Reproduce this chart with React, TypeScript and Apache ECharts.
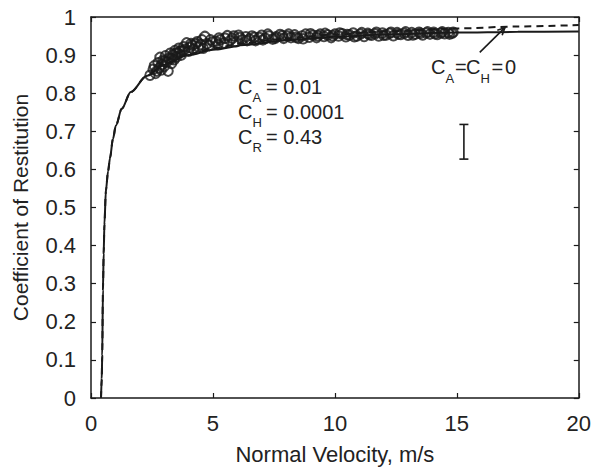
import React, { useEffect, useRef } from "react";
import * as echarts from "echarts";

const curveX = [0.41, 0.44, 0.46, 0.49, 0.52, 0.55, 0.61, 0.7, 0.78, 0.9, 1.02, 1.26, 1.63, 2.28, 3, 4, 5, 6.4, 8, 10, 12, 15, 17.5, 20];
const solidY = [0, 0.05, 0.111, 0.285, 0.38, 0.456, 0.544, 0.595, 0.63, 0.68, 0.715, 0.759, 0.803, 0.845, 0.875, 0.9, 0.914, 0.927, 0.939, 0.948, 0.954, 0.959, 0.961, 0.962];
const dashedY = [0, 0.05, 0.111, 0.285, 0.38, 0.456, 0.544, 0.595, 0.63, 0.68, 0.715, 0.759, 0.803, 0.845, 0.877, 0.903, 0.918, 0.932, 0.944, 0.954, 0.962, 0.97, 0.975, 0.979];

const measuredA: [number, number][] = [
  [2.42, 0.847], [2.55, 0.863], [2.6, 0.872], [2.7, 0.858], [2.75, 0.88], [2.8, 0.866], [2.83, 0.894], [2.9, 0.875],
  [2.95, 0.886], [3.0, 0.87], [3.05, 0.898], [3.1, 0.882], [3.16, 0.858], [3.2, 0.892], [3.25, 0.905], [3.3, 0.878],
  [3.35, 0.9], [3.4, 0.888], [3.45, 0.912], [3.5, 0.895],
  [3.55, 0.906], [3.6, 0.918], [3.7, 0.9], [3.75, 0.912], [3.8, 0.922], [3.92, 0.932], [4.0, 0.91], [4.05, 0.92],
  [4.15, 0.926], [4.2, 0.915], [4.3, 0.93], [4.4, 0.922], [4.5, 0.928], [4.67, 0.949], [4.6, 0.918], [4.75, 0.93],
  [4.85, 0.925], [5.0, 0.935], [5.12, 0.936], [5.2, 0.928],
  [5.3, 0.94], [5.45, 0.932], [5.59, 0.951], [5.7, 0.938], [5.8, 0.944], [5.95, 0.935], [6.1, 0.946], [6.2, 0.94],
  [6.35, 0.948], [6.5, 0.942], [6.6, 0.95], [6.75, 0.938], [6.9, 0.946], [7.0, 0.952],
  [7.15, 0.944], [7.3, 0.95], [7.45, 0.942], [7.6, 0.948], [7.75, 0.954], [7.9, 0.944], [8.05, 0.95], [8.2, 0.946],
  [8.35, 0.953], [8.5, 0.944], [8.65, 0.95], [8.8, 0.955], [8.95, 0.947], [9.1, 0.952], [9.25, 0.946], [9.4, 0.955],
  [9.55, 0.949], [9.7, 0.953], [9.85, 0.946], [10.0, 0.955],
  [10.15, 0.95], [10.3, 0.956], [10.45, 0.948], [10.6, 0.953], [10.75, 0.958], [10.9, 0.95], [11.05, 0.955], [11.2, 0.949],
  [11.35, 0.957], [11.5, 0.952], [11.65, 0.956], [11.8, 0.95], [11.95, 0.958], [12.1, 0.953], [12.25, 0.957], [12.4, 0.951],
  [12.55, 0.959], [12.7, 0.954], [12.85, 0.957], [13.0, 0.952], [13.15, 0.959], [13.3, 0.955], [13.45, 0.96], [13.6, 0.953],
  [13.75, 0.958], [13.9, 0.955], [14.05, 0.96], [14.2, 0.954], [14.35, 0.958], [14.5, 0.956], [14.65, 0.959], [14.8, 0.957],
];

const measuredB: [number, number][] = [
  [2.65, 0.852], [2.88, 0.861], [3.02, 0.884], [3.28, 0.89], [3.48, 0.905], [3.65, 0.91], [3.85, 0.915], [4.1, 0.93],
  [4.35, 0.935], [4.55, 0.94], [4.9, 0.94], [5.25, 0.945], [5.5, 0.944], [5.85, 0.95], [6.05, 0.952], [6.4, 0.938],
  [6.7, 0.947], [7.05, 0.94], [7.25, 0.955], [7.55, 0.944], [7.85, 0.951], [8.1, 0.955], [8.4, 0.947], [8.7, 0.943],
  [9.0, 0.956], [9.3, 0.951], [9.6, 0.957], [9.9, 0.951], [10.2, 0.958], [10.5, 0.954], [10.8, 0.948], [11.1, 0.959],
  [11.4, 0.954], [11.7, 0.96], [12.0, 0.952], [12.3, 0.96], [12.6, 0.955], [12.9, 0.961], [13.2, 0.953], [13.5, 0.957],
  [13.8, 0.961], [14.1, 0.956], [14.4, 0.961], [14.7, 0.955], [14.85, 0.96],
];

// error bar: [x, low, high]
const errorBar: [number, number, number][] = [[15.29, 0.627, 0.718]];
// arrow: [x0, y0, x1, y1]
const arrow: [number, number, number, number][] = [[15.94, 0.907, 16.97, 0.972]];

const xTicks = { min: 0, max: 20, interval: 5 };
const yTicks = { min: 0, max: 1, interval: 0.1 };

const INK = "#1a1a1a";
const FONT = "'Liberation Sans', Arial, Helvetica, sans-serif";

export default function App() {
  const ref = useRef<HTMLDivElement>(null);
  useEffect(() => {
    if (!ref.current) return;
    const chart = echarts.init(ref.current, undefined, { renderer: "svg" });
    const axisLine = { show: true, onZero: false, lineStyle: { color: INK, width: 1.5 } };
    const axisTick = { show: true, inside: true, length: 5, lineStyle: { color: INK, width: 1.2 } };
    const label = { color: "#222", fontSize: 22, fontFamily: FONT };
    const txt = (text: string, x: number, y: number, size = 20) => ({
      type: "text",
      x,
      y,
      style: { text, fontSize: size, fontFamily: FONT, fill: "#222", align: "left", verticalAlign: "middle" },
    });
    const circleStyle = { color: "rgba(255,255,255,0)", borderColor: INK, borderWidth: 2 };
    chart.setOption({
      animation: false,
      backgroundColor: "#fff",
      grid: { left: 91, right: 15, top: 17, bottom: 67 },
      xAxis: [
        {
          type: "value", ...xTicks, position: "bottom",
          axisLine, axisTick, splitLine: { show: false },
          axisLabel: { ...label, margin: 14 },
          name: "Normal Velocity, m/s", nameLocation: "middle", nameGap: 45,
          nameTextStyle: { color: "#222", fontSize: 22, fontFamily: FONT },
        },
        {
          type: "value", ...xTicks, position: "top",
          axisLine, axisTick, splitLine: { show: false }, axisLabel: { show: false },
        },
      ],
      yAxis: [
        {
          type: "value", ...yTicks, position: "left",
          axisLine, axisTick, splitLine: { show: false },
          axisLabel: { ...label, margin: 15 },
          name: "Coefficient of Restitution", nameLocation: "middle", nameGap: 60,
          nameTextStyle: { color: "#222", fontSize: 21, fontFamily: FONT },
        },
        {
          type: "value", ...yTicks, position: "right",
          axisLine, axisTick, splitLine: { show: false }, axisLabel: { show: false },
        },
      ],
      series: [
        {
          type: "line", data: curveX.map((x, i) => [x, dashedY[i]]), showSymbol: false,
          smooth: 0.3, smoothMonotone: "x",
          lineStyle: { color: INK, width: 2, type: [7, 5] }, z: 2,
        },
        {
          type: "line", data: curveX.map((x, i) => [x, solidY[i]]), showSymbol: false,
          smooth: 0.3, smoothMonotone: "x",
          lineStyle: { color: INK, width: 2 }, z: 3,
        },
        {
          type: "scatter", data: measuredA, symbol: "circle", symbolSize: 9.5,
          itemStyle: circleStyle, z: 4,
        },
        {
          type: "scatter", data: measuredB, symbol: "circle", symbolSize: 9.5,
          itemStyle: circleStyle, z: 4,
        },
        {
          type: "custom", data: errorBar, z: 5,
          renderItem: (params: any, api: any) => {
            const top = api.coord([api.value(0), api.value(2)]);
            const bot = api.coord([api.value(0), api.value(1)]);
            const w = 4.5;
            const s = { stroke: INK, lineWidth: 1.6 };
            return {
              type: "group",
              children: [
                { type: "line", shape: { x1: top[0], y1: top[1], x2: bot[0], y2: bot[1] }, style: s },
                { type: "line", shape: { x1: top[0] - w, y1: top[1], x2: top[0] + w, y2: top[1] }, style: s },
                { type: "line", shape: { x1: bot[0] - w, y1: bot[1], x2: bot[0] + w, y2: bot[1] }, style: s },
              ],
            };
          },
        },
        {
          type: "custom", data: arrow, z: 5,
          renderItem: (params: any, api: any) => {
            const a = api.coord([api.value(0), api.value(1)]);
            const b = api.coord([api.value(2), api.value(3)]);
            const ang = Math.atan2(b[1] - a[1], b[0] - a[0]);
            const L = 8, spread = 0.45;
            const p1 = [b[0] - L * Math.cos(ang - spread), b[1] - L * Math.sin(ang - spread)];
            const p2 = [b[0] - L * Math.cos(ang + spread), b[1] - L * Math.sin(ang + spread)];
            const s = { stroke: INK, lineWidth: 1.6, fill: "none" };
            return {
              type: "group",
              children: [
                { type: "line", shape: { x1: a[0], y1: a[1], x2: b[0], y2: b[1] }, style: s },
                { type: "polyline", shape: { points: [p1, b, p2] }, style: s },
              ],
            };
          },
        },
      ],
      graphic: [
        txt("C", 238, 87), txt("A", 252.5, 97, 13), txt("= 0.01", 266, 87),
        txt("C", 238, 112), txt("H", 252.5, 122, 13), txt("= 0.0001", 266, 112),
        txt("C", 238, 137), txt("R", 252.5, 147, 13), txt("= 0.43", 266, 137),
        txt("C", 431, 67), txt("A", 445.5, 78, 13), txt("=", 455, 67),
        txt("C", 466, 67), txt("H", 480.5, 78, 13), txt("=", 491.5, 67), txt("0", 505, 67),
      ],
    });
    return () => chart.dispose();
  }, []);
  return (
    <div
      ref={ref}
      style={{ position: "fixed", left: 0, top: 0, width: 594, height: 470, background: "#fff" }}
    />
  );
}
